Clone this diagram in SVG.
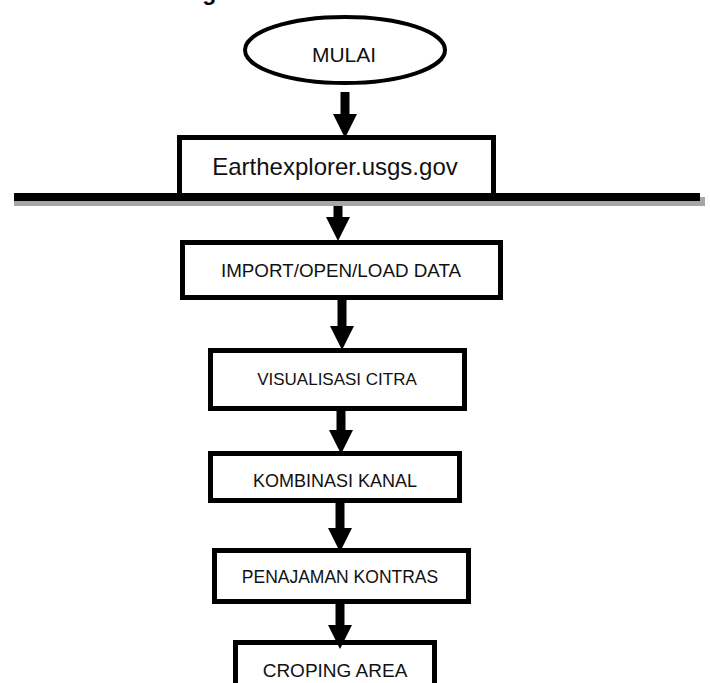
<svg xmlns="http://www.w3.org/2000/svg" width="710" height="683" viewBox="0 0 710 683">
<style>
.box{fill:#fff;stroke:#000;stroke-width:5}
.lbl{font-family:"Liberation Sans",Arial,sans-serif;fill:#111;text-anchor:middle}
.conn{stroke:#000;stroke-width:9;fill:none;marker-end:url(#head)}
.title{font-family:"Liberation Sans",Arial,sans-serif;font-weight:bold;font-size:23px;fill:#000}
</style>
<defs>
<marker id="head" viewBox="0 0 24 24" markerWidth="24" markerHeight="24" refX="0" refY="12" orient="auto" markerUnits="userSpaceOnUse">
<path d="M0,0 L24,12 L0,24 Z" fill="#000"/>
</marker>
</defs>
<rect width="710" height="683" fill="#fff"/>
<text class="title" x="100" y="-0.5">Metodologi Penelitian</text>

<g id="mulai">
<ellipse cx="345" cy="50" rx="100" ry="33" fill="#fff" stroke="#000" stroke-width="4"/>
<text class="lbl" x="344" y="62" font-size="21">MULAI</text>
</g>

<g id="earthexplorer">
<rect class="box" x="179.5" y="137.5" width="314" height="60"/>
<text class="lbl" x="335" y="175" font-size="24">Earthexplorer.usgs.gov</text>
</g>

<g id="separator">
<rect x="14" y="197" width="691" height="9" fill="#a6a6a6"/>
<rect x="14" y="193" width="686" height="8" fill="#000"/>
</g>

<g id="import">
<rect class="box" x="182.5" y="242.5" width="318" height="55"/>
<text class="lbl" x="341" y="277" font-size="18.8">IMPORT/OPEN/LOAD DATA</text>
</g>

<g id="visualisasi">
<rect class="box" x="210.5" y="350.5" width="254" height="58"/>
<text class="lbl" x="337" y="385" font-size="17">VISUALISASI CITRA</text>
</g>

<g id="kombinasi">
<rect class="box" x="210.5" y="453.5" width="249" height="47"/>
<text class="lbl" x="335" y="487" font-size="18">KOMBINASI KANAL</text>
</g>

<g id="penajaman">
<rect class="box" x="214.5" y="550.5" width="254" height="51"/>
<text class="lbl" x="340" y="583" font-size="17.5">PENAJAMAN KONTRAS</text>
</g>

<g id="croping">
<rect class="box" x="235.5" y="642.5" width="199" height="60"/>
<text class="lbl" x="335" y="677" font-size="19">CROPING AREA</text>
</g>

<g id="connectors">
<line class="conn" x1="345" y1="92" x2="345" y2="114"/>
<line class="conn" x1="338" y1="206" x2="338" y2="217"/>
<line class="conn" x1="342" y1="300" x2="342" y2="326"/>
<line class="conn" x1="341" y1="411" x2="341" y2="430"/>
<line class="conn" x1="340" y1="503" x2="340" y2="528"/>
<line class="conn" x1="340" y1="604" x2="340" y2="625"/>
</g>
</svg>
